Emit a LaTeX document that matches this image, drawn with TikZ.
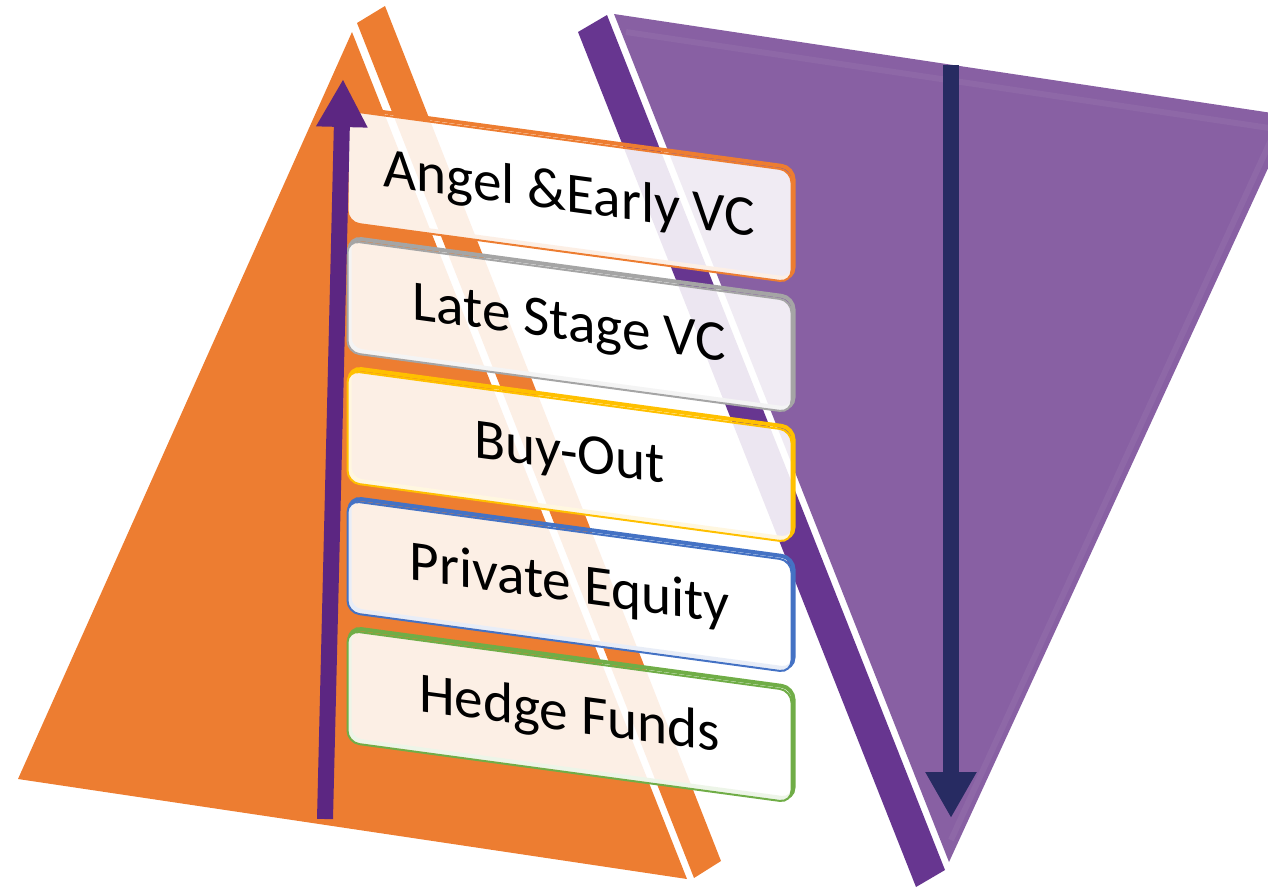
\documentclass[tikz,border=0pt]{standalone}
\usepackage{fontspec}
\setmainfont{Carlito}
\usetikzlibrary{arrows.meta}
\definecolor{flame}{HTML}{ED7D31}
\definecolor{plum}{HTML}{8860A3}
\definecolor{plumdark}{HTML}{673690}
\definecolor{grape}{HTML}{5C2682}
\definecolor{navy}{HTML}{272B62}
\definecolor{silver}{HTML}{A5A5A5}
\definecolor{amber}{HTML}{FFC000}
\definecolor{azure}{HTML}{4472C4}
\definecolor{leaf}{HTML}{70AD47}

\tikzset{
  tier/.style={rectangle,rounded corners=6pt,inner sep=0pt,
    minimum width=222pt,minimum height=56pt,yslant=-.135,
    fill=white,fill opacity=.88,text opacity=1,line width=1pt,
    font=\fontsize{28.6}{32}\selectfont},
  rim/.style={rectangle,rounded corners=6pt,inner sep=0pt,
    minimum width=222pt,minimum height=56pt,yslant=-.135,
    line width=2pt}
}

\begin{document}
\begin{tikzpicture}[x=.5pt,y=-.5pt,text=black]
  \useasboundingbox (0,0) rectangle (1268,889);
  \clip (0,0) rectangle (1268,889);

  % rising pyramid and its side strip
  \fill[flame] (18,779) -- (352,32) -- (687,879) -- cycle;
  \fill[flame] (357,23) -- (385,6) -- (721,861) -- (694,878) -- cycle;

  % falling funnel and its side strip
  \fill[plum] (614,14) -- (1292,116) -- (949,862) -- cycle;
  \draw[white,opacity=.05,line width=3pt]
    (626,32) -- (1276,129) -- (951,840);
  \fill[plumdark] (578,32) -- (607,15) -- (945,870) -- (916,887) -- cycle;

  % stacked tiers, rim first then the face
  \node[rim,draw=flame] (r1) at (571.5,193.5) {};
  \node[tier,draw=flame] (t1) at (569.5,196.5) {Angel \&Early VC};
  \node[rim,draw=silver] (r2) at (571.5,323.5) {};
  \node[tier,draw=silver] (t2) at (569.5,326.5) {Late Stage VC};
  \node[rim,draw=amber] (r3) at (571.5,453.5) {};
  \node[tier,draw=amber] (t3) at (569.5,456.5) {Buy-Out};
  \node[rim,draw=azure] (r4) at (571.5,583.5) {};
  \node[tier,draw=azure] (t4) at (569.5,586.5) {Private Equity};
  \node[rim,draw=leaf] (r5) at (571.5,713.5) {};
  \node[tier,draw=leaf] (t5) at (569.5,716.5) {Hedge Funds};

  % direction arrows
  \coordinate (riseA) at (325,819);
  \coordinate (riseB) at (343,79);
  \draw[grape,line width=8pt,-{Triangle[length=24pt,width=24pt]}]
    (riseA) -- (riseB);
  \coordinate (fallA) at (951,65);
  \coordinate (fallB) at (951,818);
  \draw[navy,line width=8pt,-{Triangle[length=23pt,width=24pt]}]
    (fallA) -- (fallB);
\end{tikzpicture}
\end{document}
